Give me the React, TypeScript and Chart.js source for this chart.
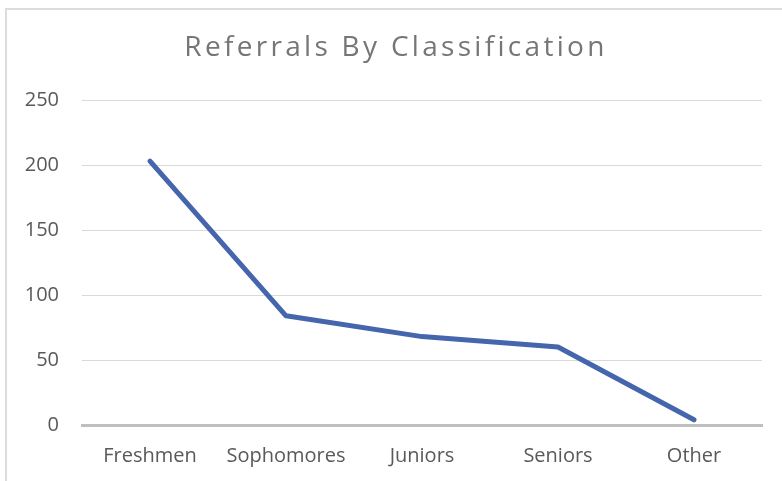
import React, { useEffect, useRef } from "react";
import { Chart, registerables } from "chart.js";

Chart.register(...registerables);

const categories = ["Freshmen", "Sophomores", "Juniors", "Seniors", "Other"];
const referrals = [203, 84, 68, 60, 4];
const yTicks = [0, 50, 100, 150, 200, 250];
const chartTitle = "Referrals By Classification";

const FONT = "'Open Sans', Lato, sans-serif";

export default function App() {
  const ref = useRef<HTMLCanvasElement | null>(null);

  useEffect(() => {
    if (!ref.current) return;
    const spacingPlugin = {
      id: "titleSpacing",
      beforeDraw(chart: any) {
        const tb = chart.titleBlock;
        if (tb && !tb.__patched) {
          const orig = tb.draw.bind(tb);
          tb.draw = () => {
            const ctx = chart.ctx;
            ctx.save();
            (ctx as any).letterSpacing = "3.3px";
            ctx.translate(15, 0);
            orig();
            ctx.restore();
          };
          tb.__patched = true;
        }
      },
    };
    const chart = new Chart(ref.current, {
      type: "line",
      data: {
        labels: categories,
        datasets: [
          {
            data: referrals,
            borderColor: "#4565AD",
            backgroundColor: "#4565AD",
            borderWidth: 5,
            pointRadius: 0,
            borderCapStyle: "round",
            borderJoinStyle: "round",
            tension: 0,
          },
        ],
      },
      options: {
        animation: false,
        responsive: false,
        maintainAspectRatio: false,
        layout: { padding: { top: 0, right: 20, bottom: 0, left: 0 } },
        plugins: {
          legend: { display: false },
          tooltip: { enabled: false },
          title: {
            display: true,
            text: chartTitle,
            color: "#767676",
            font: { family: FONT, size: 28, weight: "normal" },
            padding: { top: 31, bottom: 35.4 },
          },
        },
        scales: {
          x: {
            offset: true,
            grid: { display: false, drawTicks: false },
            border: { display: true, color: "#BFBFBF", width: 3 },
            ticks: {
              color: "#595959",
              font: { family: FONT, size: 20 },
              padding: 19,
              maxRotation: 0,
            },
            afterFit(scale: any) {
              scale.height = 56;
            },
          },
          y: {
            min: 0,
            max: 250,
            afterBuildTicks(scale: any) {
              scale.ticks = yTicks.map((v) => ({ value: v }));
            },
            grid: {
              drawTicks: false,
              color: (c: any) => (c.tick && c.tick.value === 0 ? "rgba(0,0,0,0)" : "#D9D9D9"),
              lineWidth: 1,
            },
            border: { display: false },
            ticks: {
              color: "#595959",
              font: { family: FONT, size: 20 },
              padding: 23,
            },
            afterFit(scale: any) {
              scale.width = 82;
            },
          },
        },
      },
      plugins: [spacingPlugin],
    });
    chart.draw();
    return () => chart.destroy();
  }, []);

  return (
    <div style={{ position: "absolute", left: 0, top: 0, width: 782, height: 481, overflow: "hidden", background: "#fff" }}>
      <div
        style={{
          position: "absolute",
          left: 5,
          top: 8,
          width: 900,
          height: 600,
          border: "2px solid #DCDCDC",
          boxSizing: "border-box",
        }}
      />
      <canvas ref={ref} width={782} height={481} style={{ position: "absolute", left: 0, top: 0, width: 782, height: 481 }} />
    </div>
  );
}
